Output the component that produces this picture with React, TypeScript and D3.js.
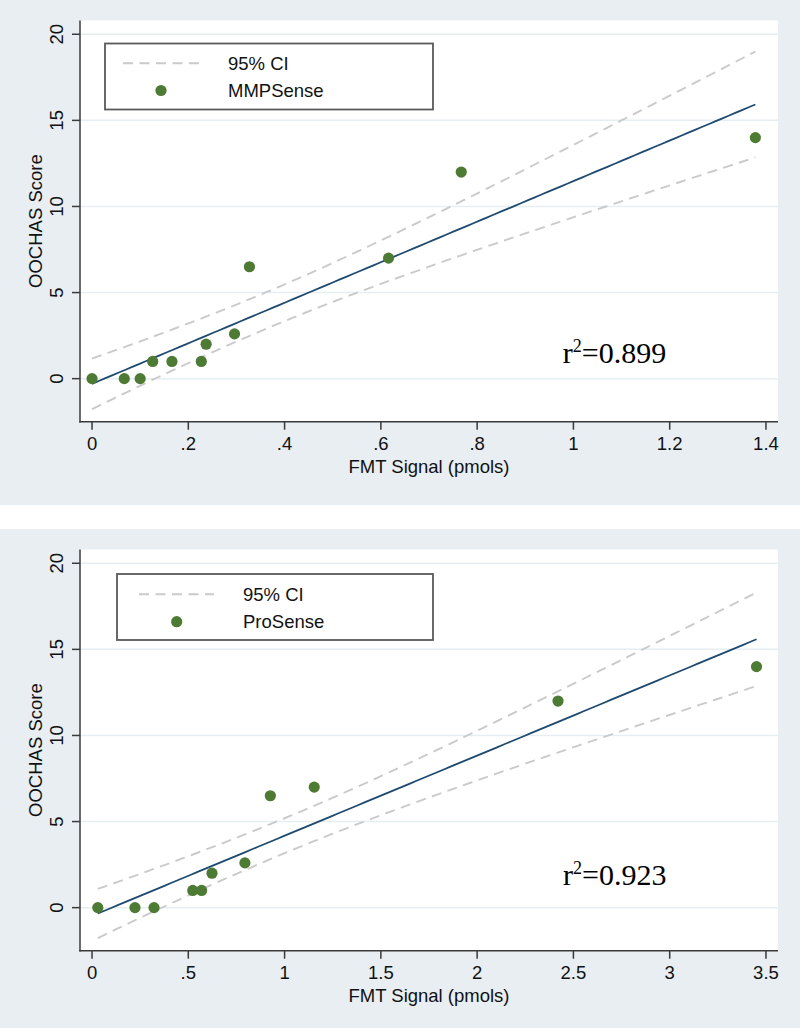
import React from 'react';
import * as d3 from 'd3';

// ---------- data ----------
const mmpSignal = [0, 0.067, 0.1, 0.126, 0.166, 0.227, 0.237, 0.296, 0.327, 0.616, 0.767, 1.378];
const mmpScore = [0, 0, 0, 1, 1, 1, 2, 2.6, 6.5, 7, 12, 14];
const proSignal = [0.03, 0.223, 0.322, 0.523, 0.569, 0.623, 0.794, 0.926, 1.154, 2.42, 3.451];
const proScore = [0, 0, 0, 1, 1, 2, 2.6, 6.5, 7, 12, 14];

const yTicks = [0, 5, 10, 15, 20];
const yTickLabels = ['0', '5', '10', '15', '20'];
const mmpXTicks = [0, 0.2, 0.4, 0.6, 0.8, 1, 1.2, 1.4];
const mmpXTickLabels = ['0', '.2', '.4', '.6', '.8', '1', '1.2', '1.4'];
const proXTicks = [0, 0.5, 1, 1.5, 2, 2.5, 3, 3.5];
const proXTickLabels = ['0', '.5', '1', '1.5', '2', '2.5', '3', '3.5'];
const seriesNames = ['MMPSense', 'ProSense'];
const r2Values = ['0.899', '0.923'];
const ciLabel = '95% CI';
const xTitle = 'FMT Signal (pmols)';
const yTitle = 'OOCHAS Score';
// two-sided 97.5% t quantiles by degrees of freedom
const tCrit: Record<number, number> = { 9: 2.262, 10: 2.228 };

// ---------- layout ----------
const W = 800;
const H = 1028;
const PANEL_H = 505;
const PLOT_L = 80;
const PLOT_R = 778;
const PLOT_T = 20.5;
const PLOT_B = 421.7;
const SANS = '"Liberation Sans", Arial, Helvetica, sans-serif';
const SERIF = '"Liberation Serif", "Times New Roman", serif';
const BG = '#e8eef1';
const DOT = '#4e7b34';
const NAVY = '#1f4a70';
const CI = '#cacaca';
const AXIS = '#3a3a3a';
const DASH = '10,6.5';

type PanelCfg = {
  offsetY: number;
  xs: number[];
  ys: number[];
  xDomain: [number, number];
  xTicks: number[];
  xTickLabels: string[];
  name: string;
  r2: string;
  r2At: [number, number];
  legend: { x0: number; x1: number; y0: number; y1: number; dash0: number; dash1: number; dotX: number; textX: number; row1: number; row2: number };
};

function lfitci(xs: number[], ys: number[], t: number) {
  const n = xs.length;
  const mx = d3.mean(xs) as number;
  const my = d3.mean(ys) as number;
  const sxx = d3.sum(xs, (x) => (x - mx) ** 2);
  const sxy = d3.sum(xs.map((x, i) => (x - mx) * (ys[i] - my)));
  const b = sxy / sxx;
  const a = my - b * mx;
  const sse = d3.sum(xs.map((x, i) => (ys[i] - a - b * x) ** 2));
  const s = Math.sqrt(sse / (n - 2));
  const [lo, hi] = d3.extent(xs) as [number, number];
  return d3.range(100).map((i) => {
    const x = lo + ((hi - lo) * i) / 99;
    const yh = a + b * x;
    const se = s * Math.sqrt(1 / n + (x - mx) ** 2 / sxx);
    return { x, y: yh, lo: yh - t * se, hi: yh + t * se };
  });
}

function Panel({ cfg }: { cfg: PanelCfg }) {
  const x = d3.scaleLinear().domain(cfg.xDomain).range([PLOT_L, PLOT_R]);
  const y = d3.scaleLinear().domain([-2.5, 20.8]).range([PLOT_B, PLOT_T]);
  const fitPts = lfitci(cfg.xs, cfg.ys, tCrit[cfg.xs.length - 2]);
  const mk = (acc: (d: any) => number) =>
    d3.line<any>().x((d) => x(d.x)).y((d) => y(acc(d)))(fitPts) as string;
  const L = cfg.legend;
  const cy = (PLOT_T + PLOT_B) / 2;
  const cx = (PLOT_L + PLOT_R) / 2;
  return (
    <g transform={`translate(0,${cfg.offsetY})`}>
      <rect x={0} y={0} width={W} height={PANEL_H} fill={BG} />
      <rect x={PLOT_L} y={PLOT_T} width={PLOT_R - PLOT_L} height={PLOT_B - PLOT_T} fill="#ffffff" />
      {yTicks.map((t) => (
        <line key={'g' + t} x1={PLOT_L} x2={PLOT_R} y1={y(t)} y2={y(t)} stroke="#e6eef1" strokeWidth={1.5} />
      ))}
      {/* CI */}
      <path d={mk((d) => d.hi)} fill="none" stroke={CI} strokeWidth={1.9} strokeDasharray={DASH} />
      <path d={mk((d) => d.lo)} fill="none" stroke={CI} strokeWidth={1.9} strokeDasharray={DASH} />
      {/* fit */}
      <path d={mk((d) => d.y)} fill="none" stroke={NAVY} strokeWidth={1.8} />
      {/* points */}
      {cfg.xs.map((v, i) => (
        <circle key={'p' + i} cx={x(v)} cy={y(cfg.ys[i])} r={5.6} fill={DOT} />
      ))}
      {/* axes */}
      <line x1={PLOT_L} x2={PLOT_L} y1={PLOT_T} y2={PLOT_B + 0.75} stroke={AXIS} strokeWidth={1.5} />
      <line x1={PLOT_L - 0.75} x2={PLOT_R} y1={PLOT_B} y2={PLOT_B} stroke={AXIS} strokeWidth={1.5} />
      {yTicks.map((t, i) => (
        <g key={'yt' + t}>
          <line x1={PLOT_L - 8} x2={PLOT_L} y1={y(t)} y2={y(t)} stroke={AXIS} strokeWidth={1.5} />
          <text
            transform={`translate(63.3,${y(t)}) rotate(-90)`}
            textAnchor="middle"
            fontFamily={SANS}
            fontSize={18.5}
            fill="#111"
          >
            {yTickLabels[i]}
          </text>
        </g>
      ))}
      {cfg.xTicks.map((t, i) => (
        <g key={'xt' + t}>
          <line x1={x(t)} x2={x(t)} y1={PLOT_B} y2={PLOT_B + 8} stroke={AXIS} strokeWidth={1.5} />
          <text x={x(t)} y={450} textAnchor="middle" fontFamily={SANS} fontSize={18.5} fill="#111">
            {cfg.xTickLabels[i]}
          </text>
        </g>
      ))}
      <text x={cx} y={473} textAnchor="middle" fontFamily={SANS} fontSize={18.5} fill="#111">
        {xTitle}
      </text>
      <text transform={`translate(41.7,${cy}) rotate(-90)`} textAnchor="middle" fontFamily={SANS} fontSize={18.5} fill="#111">
        {yTitle}
      </text>
      {/* legend */}
      <rect x={L.x0} y={L.y0} width={L.x1 - L.x0} height={L.y1 - L.y0} fill="#ffffff" stroke="#5a5a5a" strokeWidth={1.8} />
      <line x1={L.dash0} x2={L.dash1} y1={L.row1} y2={L.row1} stroke={CI} strokeWidth={1.9} strokeDasharray={DASH} />
      <text x={L.textX} y={L.row1 + 6.6} fontFamily={SANS} fontSize={18.5} fill="#111">
        {ciLabel}
      </text>
      <circle cx={L.dotX} cy={L.row2} r={5.6} fill={DOT} />
      <text x={L.textX} y={L.row2 + 6.6} fontFamily={SANS} fontSize={18.5} fill="#111">
        {cfg.name}
      </text>
      {/* r squared */}
      <text x={x(cfg.r2At[0])} y={y(cfg.r2At[1])} fontFamily={SERIF} fontSize={30} fill="#000">
        r<tspan fontSize={18} dy={-10.7}>2</tspan>
        <tspan dy={10.7}>={cfg.r2}</tspan>
      </text>
    </g>
  );
}

const panels: PanelCfg[] = [
  {
    offsetY: 0,
    xs: mmpSignal,
    ys: mmpScore,
    xDomain: [-0.025, 1.425],
    xTicks: mmpXTicks,
    xTickLabels: mmpXTickLabels,
    name: seriesNames[0],
    r2: r2Values[0],
    r2At: [0.978, 0.93],
    legend: { x0: 105, x1: 433, y0: 43.5, y1: 109.5, dash0: 123, dash1: 200, dotX: 161, textX: 228, row1: 63.3, row2: 90.5 },
  },
  {
    offsetY: 529,
    xs: proSignal,
    ys: proScore,
    xDomain: [-0.0625, 3.5625],
    xTicks: proXTicks,
    xTickLabels: proXTickLabels,
    name: seriesNames[1],
    r2: r2Values[1],
    r2At: [2.446, 1.32],
    legend: { x0: 117, x1: 433, y0: 45, y1: 111, dash0: 139, dash1: 214, dotX: 176.7, textX: 243, row1: 65.3, row2: 92.7 },
  },
];

export default function App() {
  return (
    <svg
      width={W}
      height={H}
      viewBox={`0 0 ${W} ${H}`}
      style={{ position: 'absolute', left: 0, top: 0, display: 'block', background: '#ffffff' }}
    >
      {panels.map((p, i) => (
        <Panel key={i} cfg={p} />
      ))}
    </svg>
  );
}
